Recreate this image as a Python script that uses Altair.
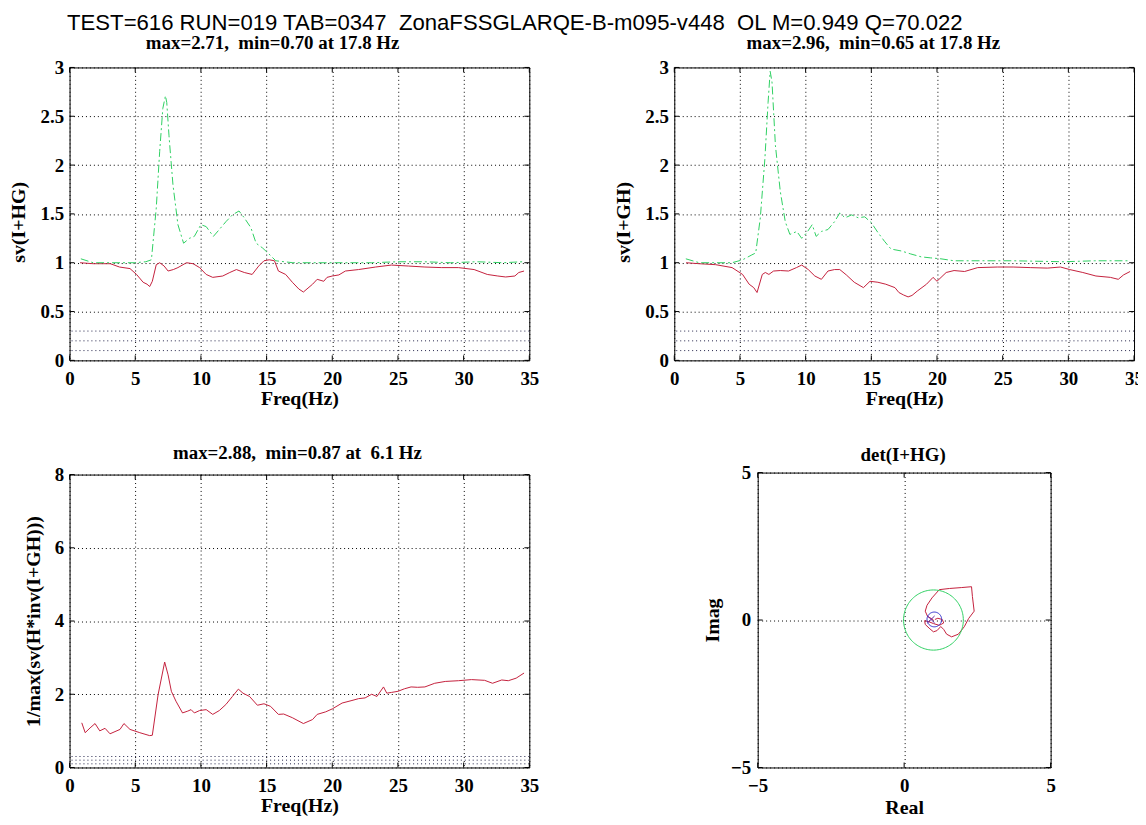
import altair as alt
import pandas as pd
import numpy as np

# ---------------- data ----------------
main_title = "TEST=616 RUN=019 TAB=0347\u00a0\u00a0ZonaFSSGLARQE-B-m095-v448\u00a0\u00a0OL M=0.949 Q=70.022"

tl_title = "max=2.71,\u00a0 min=0.70 at 17.8 Hz"
tr_title = "max=2.96,\u00a0 min=0.65 at 17.8 Hz"
bl_title = "max=2.88,\u00a0 min=0.87 at\u00a0 6.1 Hz"
br_title = "det(I+HG)"

freq_ticks = [0, 5, 10, 15, 20, 25, 30, 35]
sv_ticks = [0, 0.5, 1, 1.5, 2, 2.5, 3]
inv_ticks = [0, 2, 4, 6, 8]
nyq_ticks = [-5, 0, 5]
ref_levels = [0.1, 0.2, 0.3]

tl_max_f = [0.86, 1.8, 3.0, 4.0, 5.0, 5.8, 6.23, 6.6, 6.86, 7.1, 7.3, 7.4, 7.57, 7.87, 8.25, 8.68, 9.13, 9.5,
            10.0, 10.4, 10.95, 11.4, 11.9, 12.4, 12.9, 13.3, 13.8, 14.2, 14.7, 15.1, 15.7, 17.0, 20.0, 23.0,
            25.0, 27.0, 29.0, 31.0, 33.0, 34.5]
tl_max_v = [1.04, 1.0, 1.0, 1.0, 1.0, 1.01, 1.03, 1.56, 2.14, 2.58, 2.71, 2.64, 2.3, 1.8, 1.39, 1.2, 1.25, 1.27,
            1.39, 1.37, 1.27, 1.34, 1.42, 1.49, 1.53, 1.46, 1.36, 1.2, 1.15, 1.1, 1.02, 1.0, 1.0, 1.0,
            1.01, 1.01, 1.0, 1.01, 1.0, 1.01]

tl_min_f = [0.8, 1.8, 3.1, 3.8, 4.6, 5.1, 5.6, 5.9, 6.1, 6.3, 6.6, 6.86, 7.2, 7.5, 7.9, 8.25, 8.9, 9.4, 9.9,
            10.4, 10.9, 11.66, 12.2, 12.7, 13.3, 13.9, 14.4, 14.8, 15.2, 15.6, 15.9, 16.45, 16.96, 17.46, 17.8,
            18.5, 18.85, 19.35, 19.6, 20.0, 20.5, 21.0, 22.0, 23.3, 24.5, 25.8, 27.05, 28.3, 29.6, 30.8, 31.8,
            32.6, 33.2, 33.9, 34.2, 34.6]
tl_min_v = [1.0, 0.99, 0.99, 0.956, 0.94, 0.88, 0.8, 0.78, 0.756, 0.81, 0.98, 1.0, 0.966, 0.915, 0.93, 0.95,
            1.0, 0.99, 0.95, 0.88, 0.85, 0.864, 0.9, 0.93, 0.9, 0.88, 0.966, 1.02, 1.03, 1.02, 0.915, 0.88, 0.8,
            0.73, 0.70, 0.78, 0.83, 0.81, 0.85, 0.864, 0.875, 0.915, 0.93, 0.956, 0.976, 0.966, 0.956, 0.95,
            0.95, 0.93, 0.88, 0.864, 0.854, 0.864, 0.9, 0.915]

tr_max_f = [0.88, 1.9, 3.15, 4.4, 5.2, 5.9, 6.2, 6.55, 6.9, 7.14, 7.3, 7.44, 7.7, 8.07, 8.45, 8.8, 9.33, 9.7,
            10.1, 10.5, 10.8, 11.2, 11.7, 12.2, 12.6, 13.0, 13.5, 14.0, 14.5, 15.0, 15.5, 16.0, 16.5, 17.3,
            18.0, 18.8, 19.5, 20.3, 21.3, 23.3, 25.8, 29.6, 32.0, 34.5]
tr_max_v = [1.04, 1.0, 1.0, 1.0, 1.03, 1.08, 1.1, 1.46, 2.07, 2.64, 2.96, 2.85, 2.2, 1.73, 1.42, 1.29, 1.32,
            1.25, 1.31, 1.39, 1.27, 1.32, 1.34, 1.42, 1.51, 1.46, 1.49, 1.46, 1.47, 1.41, 1.31, 1.22, 1.14,
            1.12, 1.09, 1.06, 1.05, 1.04, 1.02, 1.02, 1.02, 1.01, 1.02, 1.02]

tr_min_f = [0.9, 1.9, 3.15, 4.4, 5.2, 5.7, 6.05, 6.3, 6.7, 6.93, 7.2, 7.56, 8.07, 8.7, 9.3, 9.7, 10.2, 10.7,
            11.2, 11.7, 12.2, 12.6, 13.1, 13.7, 14.4, 14.9, 15.5, 16.1, 16.8, 17.1, 17.45, 17.8, 18.1, 18.5,
            19.2, 19.7, 20.0, 20.7, 21.3, 22.1, 23.1, 24.6, 25.8, 27.1, 28.4, 29.4, 30.1, 31.1, 32.1, 33.2,
            33.8, 34.2, 34.7]
tr_min_v = [1.0, 0.99, 0.98, 0.95, 0.88, 0.78, 0.745, 0.695, 0.88, 0.9, 0.88, 0.915, 0.92, 0.915, 0.95, 0.976,
            0.93, 0.864, 0.83, 0.915, 0.93, 0.93, 0.875, 0.8, 0.745, 0.81, 0.8, 0.78, 0.745, 0.695, 0.67, 0.65,
            0.665, 0.71, 0.78, 0.85, 0.81, 0.9, 0.92, 0.91, 0.95, 0.956, 0.956, 0.95, 0.945, 0.956, 0.93, 0.9,
            0.864, 0.85, 0.83, 0.875, 0.91]

bl_f = [0.93, 1.19, 1.56, 1.94, 2.3, 2.7, 3.08, 3.46, 3.84, 4.14, 4.6, 5.35, 6.1, 6.3, 6.74, 7.24, 7.5, 7.75,
        8.1, 8.6, 9.0, 9.25, 9.5, 9.9, 10.4, 10.9, 11.4, 11.9, 12.4, 12.85, 13.2, 13.7, 14.3, 14.8, 15.3, 15.9,
        16.3, 16.96, 17.8, 18.5, 18.85, 19.5, 20.0, 20.75, 21.5, 22.0, 22.5, 23.0, 23.4, 23.9, 24.15, 24.5,
        25.0, 25.5, 26.0, 26.5, 27.05, 27.8, 28.6, 29.6, 30.6, 31.6, 32.2, 32.9, 33.4, 34.0, 34.6]
bl_v = [1.22, 0.95, 1.08, 1.2, 1.0, 1.07, 0.92, 0.98, 1.04, 1.2, 1.04, 0.95, 0.87, 0.88, 1.99, 2.88, 2.53, 2.08,
        1.81, 1.49, 1.54, 1.58, 1.49, 1.555, 1.58, 1.45, 1.555, 1.72, 1.94, 2.14, 2.03, 1.94, 1.7, 1.74, 1.67,
        1.45, 1.46, 1.36, 1.2, 1.31, 1.45, 1.52, 1.6, 1.76, 1.83, 1.88, 1.9, 2.0, 1.94, 2.2, 2.03, 2.05, 2.08,
        2.15, 2.2, 2.19, 2.2, 2.3, 2.35, 2.37, 2.4, 2.38, 2.3, 2.39, 2.37, 2.44, 2.58]

det_re = [1.00, 0.93, 0.80, 0.72, 0.78, 0.95, 1.20, 1.55, 1.95, 2.30, 2.33, 2.39, 2.20, 2.05, 1.85, 1.62, 1.45,
          1.35, 1.25, 1.12, 1.00, 0.88, 0.72, 0.70, 0.85, 1.00, 1.20, 1.35, 1.30, 1.15, 1.05]
det_im = [0.00, 0.05, 0.12, 0.30, 0.50, 0.75, 1.03, 1.07, 1.10, 1.13, 0.80, 0.30, 0.05, -0.23, -0.48, -0.57,
          -0.48, -0.32, -0.22, -0.36, -0.40, -0.30, -0.15, -0.02, -0.06, -0.12, -0.18, -0.10, 0.02, 0.06, 0.02]

ref_circle_center = [1.0, 0.0]
ref_circle_radius = 1.02
small_circle_center = [1.03, 0.02]
small_circle_radius = 0.25
cross_re = [0.92]
cross_im = [0.02]

# ---------------- style ----------------
SERIF = "Liberation Serif"
SANS = "Liberation Sans"
RED = "#c4203c"
GREEN = "#2ed062"
BLUE = "#2424c8"
PURPLE = "#6020a0"
REFC = "#202048"
LFS = 19   # tick labels
TFS = 20   # axis titles
SFS = 19   # panel titles

W, H = 463, 295
SW, SH = 295, 297


def x_axis(values, title, label_pad, title_y, width):
    return alt.Axis(values=values, format="~g", title=title, grid=True, gridColor="black",
                    gridDash=[1, 3], gridOpacity=1, gridWidth=1, ticks=False, domain=False,
                    labelFont=SERIF, labelFontSize=LFS, labelFontWeight="bold", labelColor="black",
                    labelBaseline="alphabetic", labelPadding=label_pad, labelFlush=False,
                    labelOverlap=False, titleFont=SERIF, titleFontSize=TFS, titleFontWeight="bold",
                    titleColor="black", titleBaseline="alphabetic", titleX=width / 2, titleY=title_y)


def y_axis(values, title, title_x, title_y, label_pad=6):
    return alt.Axis(values=values, format="~g", title=title, grid=True, gridColor="black",
                    gridDash=[1, 3], gridOpacity=1, gridWidth=1, ticks=False, domain=False,
                    labelFont=SERIF, labelFontSize=LFS, labelFontWeight="bold", labelColor="black",
                    labelPadding=label_pad, labelFlush=False, labelOverlap=False,
                    titleFont=SERIF, titleFontSize=TFS, titleFontWeight="bold", titleColor="black",
                    titleBaseline="alphabetic", titleX=title_x, titleY=title_y, titleAngle=270)


def tick_layers(xvals, yvals, xsc, ysc, xax, yax, w, h):
    xs = pd.DataFrame({"tv": xvals})
    ys = pd.DataFrame({"tv": yvals})
    out = []
    for y0, y1 in [(h, h - 5), (0, 5)]:
        out.append(alt.Chart(xs).mark_rule(color="black", strokeWidth=1).encode(
            x=alt.X("tv:Q", scale=xsc, axis=xax), y=alt.value(y0), y2=alt.value(y1)))
    for x0, x1 in [(0, 5), (w - 5, w)]:
        out.append(alt.Chart(ys).mark_rule(color="black", strokeWidth=1).encode(
            y=alt.Y("tv:Q", scale=ysc, axis=yax), x=alt.value(x0), x2=alt.value(x1)))
    return out


def panel_title(text, dx, off):
    return alt.TitleParams(text, font=SERIF, fontSize=SFS, fontWeight="bold", color="black",
                           anchor="middle", frame="group", dx=dx, offset=off, baseline="alphabetic")


def freq_panel(series, ydom, yvals, ytitle, title, dx, tx, ty, toff):
    xsc = alt.Scale(domain=[0, 35], nice=False, zero=False)
    ysc = alt.Scale(domain=ydom, nice=False, zero=False)
    xax = x_axis(freq_ticks, "Freq(Hz)", 24, 44, W)
    yax = y_axis(yvals, ytitle, tx, ty)
    layers = []
    for f, v, color, dash in series:
        df = pd.DataFrame({"f": f, "v": v})
        if dash:
            mk = alt.Chart(df).mark_line(color=color, strokeWidth=1, strokeDash=dash)
        else:
            mk = alt.Chart(df).mark_line(color=color, strokeWidth=1)
        layers.append(mk.encode(x=alt.X("f:Q", scale=xsc, axis=xax),
                                y=alt.Y("v:Q", scale=ysc, axis=yax)))
    ref = pd.DataFrame({"lvl": ref_levels})
    layers.append(alt.Chart(ref).mark_rule(color=REFC, strokeDash=[1, 3], strokeWidth=1).encode(
        y=alt.Y("lvl:Q", scale=ysc, axis=yax)))
    layers += tick_layers(freq_ticks, yvals, xsc, ysc, xax, yax, W, H)
    return alt.layer(*layers).properties(width=W, height=H, title=panel_title(title, dx, toff))


tl = freq_panel([(tl_min_f, tl_min_v, RED, None), (tl_max_f, tl_max_v, GREEN, [8, 3, 2, 3])],
                [0, 3], sv_ticks, "sv(I+HG)", tl_title, -27, -45, H / 2 + 8, -9)
tr = freq_panel([(tr_min_f, tr_min_v, RED, None), (tr_max_f, tr_max_v, GREEN, [8, 3, 2, 3])],
                [0, 3], sv_ticks, "sv(I+GH)", tr_title, -31, -45, H / 2 + 8, -9)
bl = freq_panel([(bl_f, bl_v, RED, None)],
                [0, 8], inv_ticks, "1/max(sv(H*inv(I+GH)))", bl_title, -2, -30, H / 2, -12)

# ---- det(I+HG) panel ----
xs_n = alt.Scale(domain=[-5, 5], nice=False, zero=False)
ys_n = alt.Scale(domain=[-5, 5], nice=False, zero=False)
xax_n = x_axis(nyq_ticks, "Real", 24, 46, SW)
yax_n = y_axis(nyq_ticks, "Imag", -39, SH / 2, 7)
th = np.linspace(0, 2 * np.pi, 121)
circ = pd.DataFrame({"i": np.arange(len(th)),
                     "re": ref_circle_center[0] + ref_circle_radius * np.cos(th),
                     "im": ref_circle_center[1] + ref_circle_radius * np.sin(th)})
scirc = pd.DataFrame({"i": np.arange(len(th)),
                      "re": small_circle_center[0] + small_circle_radius * np.cos(th),
                      "im": small_circle_center[1] + small_circle_radius * np.sin(th)})
det = pd.DataFrame({"i": np.arange(len(det_re)), "re": det_re, "im": det_im})
cross = pd.DataFrame({"re": cross_re, "im": cross_im})

det_layer = alt.Chart(det).mark_line(color=RED, strokeWidth=1).encode(
    x=alt.X("re:Q", scale=xs_n, axis=xax_n), y=alt.Y("im:Q", scale=ys_n, axis=yax_n), order="i:Q")
circ_layer = alt.Chart(circ).mark_line(color=GREEN, strokeWidth=1).encode(
    x=alt.X("re:Q", scale=xs_n, axis=xax_n), y=alt.Y("im:Q", scale=ys_n, axis=yax_n), order="i:Q")
scirc_layer = alt.Chart(scirc).mark_line(color=BLUE, strokeWidth=1).encode(
    x=alt.X("re:Q", scale=xs_n, axis=xax_n), y=alt.Y("im:Q", scale=ys_n, axis=yax_n), order="i:Q")
cross_layer = alt.Chart(cross).mark_point(shape="M-1,-1L1,1M-1,1L1,-1", size=50, color=PURPLE,
                                          filled=False, strokeWidth=1, opacity=1).encode(
    x=alt.X("re:Q", scale=xs_n, axis=xax_n), y=alt.Y("im:Q", scale=ys_n, axis=yax_n))

br = alt.layer(det_layer, circ_layer, scirc_layer, cross_layer,
               *tick_layers(nyq_ticks, nyq_ticks, xs_n, ys_n, xax_n, yax_n, SW, SH)).properties(
    width=SW, height=SH, title=panel_title(br_title, -1, -16))

col1 = alt.vconcat(tl, bl, spacing=115, bounds="flush")
col2 = alt.vconcat(tr, br, spacing=113, bounds="flush", center=True)

chart = alt.hconcat(col1, col2, spacing=74).properties(
    title=alt.TitleParams(main_title, font=SANS, fontSize=22.3, fontWeight="normal", color="black",
                          anchor="start", dx=59, offset=-19, baseline="alphabetic"),
    padding={"left": 0, "top": 1, "right": -6, "bottom": -4},
    background="white",
).configure_view(stroke="black", strokeWidth=1)

chart.save("out.html", embed_options={"renderer": "svg", "actions": False})
